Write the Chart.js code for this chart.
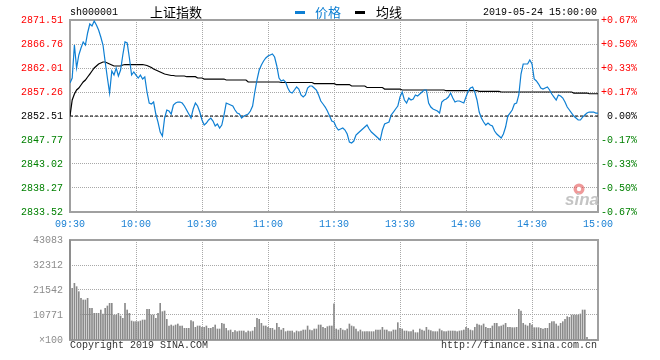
<!DOCTYPE html>
<html><head><meta charset="utf-8">
<script src="https://cdn.jsdelivr.net/npm/chart.js@4.4.1/dist/chart.umd.min.js"></script>
<style>
html,body{margin:0;padding:0;background:#fff;}
#wrap{position:relative;width:660px;height:360px;overflow:hidden;background:#fff;}
canvas{position:absolute;left:0;top:0;}
.t{position:absolute;white-space:nowrap;font-family:'Liberation Mono','DejaVu Sans Mono',monospace;font-size:10px;line-height:12px;}
.cjk{position:absolute;white-space:nowrap;font-family:'Noto Sans CJK SC',sans-serif;font-size:13px;line-height:16px;}
.sw{position:absolute;width:10px;height:3px;}
</style></head><body>
<div id="wrap">
<canvas id="pc" width="660" height="360"></canvas>
<canvas id="vc" width="660" height="360"></canvas>
<div class="t" style="left:70px;top:7px;color:#000">sh000001</div>
<div class="cjk" style="left:150px;top:4px;color:#000">上证指数</div>
<div class="sw" style="left:295px;top:11px;background:#0e7fd3"></div>
<div class="cjk" style="left:315px;top:4px;color:#0e7fd3">价格</div>
<div class="sw" style="left:355px;top:11px;background:#000"></div>
<div class="cjk" style="left:376px;top:4px;color:#000">均线</div>
<div class="t" style="right:63px;top:7px;color:#000">2019-05-24 15:00:00</div>
<div class="t" style="left:70px;top:340px;color:#333">Copyright 2019 SINA.COM</div>
<div class="t" style="right:63px;top:340px;color:#333">http://finance.sina.com.cn</div>
</div>
<script>
// ---------- data ----------
const prevClose = 2852.51;
const timeLabels = ['09:30','10:00','10:30','11:00','11:30','13:30','14:00','14:30','15:00'];
const tickMinutes = [0,30,60,90,120,150,180,210,240];
const priceTicks = [2833.52,2838.27,2843.02,2847.77,2852.51,2857.26,2862.01,2866.76,2871.51];
const pctLabels = ['-0.67%','-0.50%','-0.33%','-0.17%','0.00%','+0.17%','+0.33%','+0.50%','+0.67%'];
const volTicks = [0,10771,21542,32312,43083];
const volTickLabels = ['\u00d7100','10771','21542','32312','43083'];

const price = [
2859.04,2860.03,2866.56,2862.01,2864.58,2865.97,2867.16,2866.56,2868.94,2870.72,
2870.32,2871.31,2870.52,2869.53,2868.15,2866.56,2863.20,2860.03,2857.06,2861.42,
2860.62,2862.01,2860.43,2861.61,2864.58,2867.16,2866.96,2863.99,2860.62,2861.22,
2860.62,2860.03,2860.62,2859.83,2860.23,2857.26,2855.08,2854.89,2855.28,2852.91,
2851.32,2849.34,2848.55,2852.11,2853.70,2853.50,2852.91,2854.69,2855.08,2855.28,
2855.28,2855.08,2854.49,2853.70,2852.91,2852.11,2853.90,2855.08,2854.49,2853.30,
2851.72,
2850.73,2851.12,2851.72,2852.11,2851.52,2850.53,2850.93,2850.13,2850.73,2852.71,
2855.08,2854.89,2854.69,2854.49,2853.70,2853.10,2852.91,2852.11,2852.51,2852.71,
2852.91,2853.50,2854.49,2857.26,2859.64,2861.61,2862.60,2863.40,2863.99,2864.39,
2864.58,2864.78,2864.19,2862.41,2860.03,2859.44,2859.64,2859.24,2858.05,2857.26,
2857.06,2857.66,2858.25,2857.85,2856.67,2856.27,2856.67,2858.05,2858.45,2858.45,
2858.05,2857.66,2856.67,2855.48,2854.89,2854.29,2853.50,2852.51,2851.52,2851.32,
2850.33,2849.74,2849.94,2850.13,2849.74,2848.95,2847.36,2847.17,2847.56,2848.75,
2849.15,2849.54,2849.94,2850.33,2850.73,2849.94,2849.34,2848.95,2848.55,2848.16,
2847.76,2849.74,2850.93,2851.12,2851.32,2852.71,2853.30,2853.90,2854.49,2856.27,
2857.26,2855.68,2855.08,2856.07,2855.68,2855.87,2856.67,2856.47,2856.86,2857.26,
2857.66,2857.66,2855.08,2854.29,2853.90,2853.70,2853.50,2853.10,2855.28,2855.68,
2855.87,2856.27,2857.06,2856.07,2855.28,2855.48,2855.48,2855.28,2855.08,2856.27,
2857.46,2858.05,2858.25,2857.26,2855.68,2853.30,2852.11,2851.32,2850.73,2851.12,
2850.73,2850.53,2849.54,2848.95,2848.55,2848.16,2848.95,2850.33,2852.51,2853.10,
2853.70,2854.89,2855.08,2856.67,2860.82,2862.80,2862.80,2862.80,2863.59,2862.80,
2859.83,2859.44,2858.84,2858.05,2857.85,2858.05,2858.25,2857.66,2856.86,2856.27,
2855.68,2856.67,2856.47,2856.07,2855.28,2854.29,2853.70,2853.10,2852.51,2852.11,
2851.72,2851.72,2852.31,2852.71,2853.10,2853.30,2853.30,2853.30,2853.10,2853.10
];

const avgLine = [
2852.51,2855.68,2856.86,2857.66,2858.05,2858.65,2859.24,2859.64,2860.23,2860.82,
2861.42,2862.01,2862.41,2862.80,2863.00,2863.20,2863.20,2863.00,2862.80,2862.60,
2862.41,2862.41,2862.41,2862.41,2862.60,2862.70,2862.70,2862.70,2862.70,2862.70,
2862.70,2862.70,2862.70,2862.70,2862.60,2862.51,2862.31,2862.11,2861.81,2861.61,
2861.42,2861.22,2861.02,2860.82,2860.72,2860.62,2860.53,2860.53,2860.43,2860.43,
2860.43,2860.43,2860.43,2860.29,2860.29,2860.29,2860.29,2860.29,2860.03,2860.03,
2860.03,2859.83,2859.83,2859.83,2859.83,2859.83,2859.83,2859.83,2859.83,2859.83,
2859.83,2859.64,2859.64,2859.64,2859.64,2859.64,2859.64,2859.64,2859.64,2859.64,
2859.64,2859.24,2859.24,2859.24,2859.24,2859.24,2859.24,2859.24,2859.24,2859.24,
2859.24,2859.24,2859.24,2859.24,2859.24,2859.24,2859.14,2859.14,2859.14,2859.14,
2859.14,2859.14,2859.14,2859.14,2859.14,2859.14,2859.14,2859.14,2859.14,2859.14,
2859.14,2858.94,2858.94,2858.94,2858.94,2858.94,2858.94,2858.94,2858.94,2858.94,
2858.94,2858.74,2858.74,2858.74,2858.74,2858.74,2858.74,2858.74,2858.45,2858.45,
2858.45,2858.45,2858.45,2858.45,2858.45,2858.15,2858.15,2858.15,2858.15,2858.15,
2858.15,2858.15,2858.15,2857.85,2857.85,2857.85,2857.85,2857.85,2857.85,2857.85,
2857.85,2857.66,2857.66,2857.66,2857.66,2857.66,2857.66,2857.66,2857.66,2857.66,
2857.66,2857.66,2857.66,2857.66,2857.66,2857.66,2857.66,2857.66,2857.66,2857.66,
2857.66,2857.52,2857.52,2857.52,2857.52,2857.52,2857.52,2857.52,2857.52,2857.52,
2857.52,2857.52,2857.52,2857.52,2857.52,2857.52,2857.40,2857.40,2857.40,2857.40,
2857.40,2857.40,2857.40,2857.40,2857.40,2857.40,2857.26,2857.26,2857.26,2857.26,
2857.26,2857.26,2857.26,2857.26,2857.26,2857.26,2857.26,2857.26,2857.26,2857.26,
2857.26,2857.26,2857.26,2857.26,2857.26,2857.26,2857.26,2857.26,2857.26,2857.26,
2857.26,2857.26,2857.26,2857.26,2857.26,2857.26,2857.26,2857.26,2857.26,2857.06,
2857.06,2857.06,2857.06,2857.06,2857.06,2857.06,2856.92,2856.92,2856.92,2856.92,
2856.92
];

const volume = [
43083,22258,24412,22976,20822,17950,17232,17232,17950,13642,
13642,11488,11488,11488,12924,11201,13642,14647,15796,15796,
10770,10770,11488,10339,9334,15796,12924,11488,8185,7898,
7898,7898,8185,8616,8616,13211,13211,10770,10770,9334,
11488,15796,12206,12493,8903,6031,6462,6031,6462,6893,
6031,6031,5026,5026,5026,8329,7898,5457,6031,6031,
5457,5457,6031,5026,5026,5457,6462,4739,4739,7180,
6893,5026,4021,4308,3303,4021,3590,3877,3877,3877,
3159,3877,3590,3877,5457,9334,8903,7180,6031,6031,
5457,5026,5026,4308,7180,5457,4308,5026,3590,3877,
3877,3877,3159,3877,3590,3877,4308,4308,6031,4308,
4021,4739,4739,6462,6462,5457,5026,5744,6031,6031,
15600,4739,4308,5026,4308,4021,4739,6893,6031,5744,
4739,3590,4308,3590,3590,3590,3590,3590,3590,4308,
4308,4308,5457,4308,4308,3590,3590,4308,4308,7467,
5026,4739,3877,3877,3590,3590,4308,3159,3159,4739,
4308,3877,5457,4308,4021,3590,3590,3590,4739,4021,
3590,3590,3877,3877,3877,3877,3590,3877,4021,4308,
5457,5026,4308,4021,5457,6893,6462,6175,6893,5457,
5026,5026,6031,7180,7180,5744,6031,6462,7180,5457,
5457,5313,5313,5457,13211,12493,7180,6462,6031,7180,
6462,5313,5313,5313,5026,4739,5026,5026,7180,7898,
7898,6893,6031,7180,7898,8903,10052,9765,10770,10770,
10770,10770,11201,12924,12924,1149,0,0,0,0,
0
];

// ---------- styles ----------
const FONT = "'Liberation Mono','DejaVu Sans Mono',monospace";
Chart.defaults.font.family = FONT;
Chart.defaults.font.size = 10;
const BLUE = '#0e7fd3';
const TIME_BLUE = '#1a80d4';
const RED = '#ff0000';
const GREEN = '#008000';
const GRID = '#a8a8a8';
const FRAME = '#a0a0a0';

const frame = {
  id: 'frame',
  beforeDatasetsDraw(chart) {
    const {ctx, chartArea: a} = chart;
    ctx.save();
    ctx.strokeStyle = FRAME;
    ctx.lineWidth = 2;
    ctx.strokeRect(a.left, a.top, a.right - a.left, a.bottom - a.top);
    ctx.restore();
  }
};

const watermark = {
  id: 'watermark',
  beforeDatasetsDraw(chart) {
    const {ctx, chartArea: a} = chart;
    ctx.save();
    ctx.fillStyle = 'rgba(225,70,70,0.55)';
    ctx.beginPath(); ctx.arc(a.right - 19, a.bottom - 23, 5.5, 0, Math.PI * 2); ctx.fill();
    ctx.fillStyle = '#fff';
    ctx.beginPath(); ctx.arc(a.right - 19, a.bottom - 23, 2.2, 0, Math.PI * 2); ctx.fill();
    ctx.font = "italic bold 17px 'Liberation Sans', Arial, sans-serif";
    ctx.fillStyle = '#c4c4c4';
    ctx.textAlign = 'right';
    ctx.textBaseline = 'alphabetic';
    ctx.fillText('sina', a.right + 1, a.bottom - 7);
    ctx.restore();
  }
};

const signColor = (v) => v > prevClose + 0.001 ? RED : (v < prevClose - 0.001 ? GREEN : '#000');

new Chart(document.getElementById('pc'), {
  type: 'line',
  data: {
    datasets: [
      {label: '价格', data: price.map((v, i) => ({x: i, y: v})), borderColor: BLUE, borderWidth: 1.2, pointRadius: 0, tension: 0, yAxisID: 'y'},
      {label: '均线', data: avgLine.map((v, i) => ({x: i, y: v})), borderColor: '#000', borderWidth: 1.2, pointRadius: 0, tension: 0, yAxisID: 'y'},
      {label: 'prev', data: [{x: tickMinutes[0], y: prevClose}, {x: tickMinutes[tickMinutes.length - 1], y: prevClose}], borderColor: '#000', borderWidth: 1, borderDash: [3, 2], pointRadius: 0, yAxisID: 'y'}
    ]
  },
  options: {
    responsive: false, animation: false, devicePixelRatio: 1,
    layout: {padding: {left: 0, right: 23, top: 20, bottom: 124}},
    plugins: {legend: {display: false}, tooltip: {enabled: false}},
    scales: {
      x: {
        type: 'linear', min: tickMinutes[0], max: tickMinutes[tickMinutes.length - 1],
        afterBuildTicks: (ax) => { ax.ticks = tickMinutes.map(v => ({value: v})); },
        ticks: {callback: (v, i) => timeLabels[i], color: TIME_BLUE, padding: 6, maxRotation: 0, autoSkip: false},
        grid: {color: GRID, drawTicks: false, lineWidth: 1},
        border: {display: false, dash: [1, 1]},
        afterFit: (ax) => { ax.height = 24; }
      },
      y: {
        position: 'left', min: priceTicks[0], max: priceTicks[priceTicks.length - 1],
        afterBuildTicks: (ax) => { ax.ticks = priceTicks.map(v => ({value: v})); },
        ticks: {callback: (v, i) => priceTicks[i].toFixed(2), color: (c) => signColor(c.tick.value), padding: 7, autoSkip: false},
        grid: {color: GRID, drawTicks: false, lineWidth: 1},
        border: {display: false, dash: [1, 1]},
        afterFit: (ax) => { ax.width = 70; }
      },
      y2: {
        position: 'right', min: priceTicks[0], max: priceTicks[priceTicks.length - 1],
        afterBuildTicks: (ax) => { ax.ticks = priceTicks.map(v => ({value: v})); },
        ticks: {callback: (v, i) => pctLabels[i], color: (c) => signColor(c.tick.value), padding: 0, crossAlign: 'far', autoSkip: false},
        grid: {display: false, drawTicks: false},
        border: {display: false},
        afterFit: (ax) => { ax.width = 39; }
      }
    }
  },
  plugins: [frame, watermark]
});

new Chart(document.getElementById('vc'), {
  type: 'bar',
  data: {
    datasets: [
      {label: 'volume', data: volume.map((v, i) => ({x: i, y: v})), backgroundColor: '#8a8a8a', borderWidth: 0, barThickness: 1, clip: false}
    ]
  },
  options: {
    responsive: false, animation: false, devicePixelRatio: 1,
    layout: {padding: {left: 0, right: 62, top: 240, bottom: 20}},
    plugins: {legend: {display: false}, tooltip: {enabled: false}},
    scales: {
      x: {
        type: 'linear', offset: false, min: tickMinutes[0], max: tickMinutes[tickMinutes.length - 1],
        afterBuildTicks: (ax) => { ax.ticks = tickMinutes.map(v => ({value: v})); },
        ticks: {display: false},
        grid: {color: GRID, drawTicks: false, offset: false},
        border: {display: false, dash: [1, 1]},
        afterFit: (ax) => { ax.height = 0; }
      },
      y: {
        position: 'left', min: volTicks[0], max: volTicks[volTicks.length - 1],
        afterBuildTicks: (ax) => { ax.ticks = volTicks.map(v => ({value: v})); },
        ticks: {callback: (v, i) => volTickLabels[i], color: '#8c8c8c', padding: 7, autoSkip: false},
        grid: {color: GRID, drawTicks: false},
        border: {display: false, dash: [1, 1]},
        afterFit: (ax) => { ax.width = 70; }
      }
    }
  },
  plugins: [frame]
});
</script>
</body></html>
